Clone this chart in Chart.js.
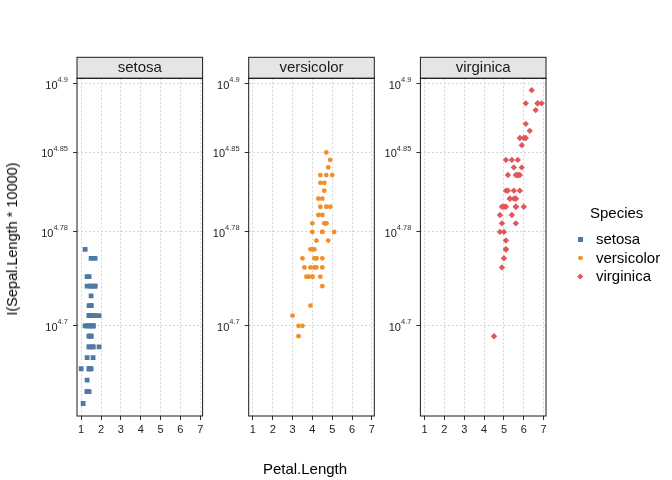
<!DOCTYPE html>
<html>
<head>
<meta charset="utf-8">
<script src="https://cdn.jsdelivr.net/npm/chart.js@4.4.1/dist/chart.umd.min.js"></script>
<style>
  body { margin: 0; background: #fff; }
  #wrap { position: relative; width: 672px; height: 480px; font-family: "Liberation Sans", Arial, sans-serif; color: #000; }
  #wrap canvas { position: absolute; left: 0; top: 0; }
  .title { position: absolute; font-size: 15px; white-space: nowrap; }
  #xtitle { left: 305px; top: 468px; transform: translate(-50%, -50%); }
  #ytitle { left: 12px; top: 239px; transform: translate(-50%, -50%) rotate(-90deg); font-size: 14.5px; }
  #legend { position: absolute; left: 576px; top: 204px; font-size: 15px; }
  #legend .head { margin-left: 14px; height: 26px; }
  #legend .item { position: relative; height: 18.5px; line-height: 18.5px; padding-left: 20px; }
  #legend .mark { position: absolute; left: 2px; top: 7px; width: 4.5px; height: 4.5px; }
</style>
</head>
<body>
<div id="wrap">
  <canvas id="p0" width="672" height="480"></canvas>
  <canvas id="p1" width="672" height="480"></canvas>
  <canvas id="p2" width="672" height="480"></canvas>
  <div class="title" id="xtitle">Petal.Length</div>
  <div class="title" id="ytitle">I(Sepal.Length * 10000)</div>
  <div id="legend">
    <div class="head">Species</div>
    <div class="item"><span class="mark" style="background:#4E79A7"></span>setosa</div>
    <div class="item"><span class="mark" style="background:#F28E2B;border-radius:50%"></span>versicolor</div>
    <div class="item"><span class="mark" style="background:#E15759;transform:rotate(45deg) scale(0.85)"></span>virginica</div>
  </div>
</div>
<script>
// iris: Petal.Length and Sepal.Length per species
const species = ['setosa', 'versicolor', 'virginica'];
const colors = ['#4E79A7', '#F28E2B', '#E15759'];
const shapes = ['rect', 'circle', 'rectRot'];

const setosaPetal = [1.4,1.4,1.3,1.5,1.4,1.7,1.4,1.5,1.4,1.5,1.5,1.6,1.4,1.1,1.2,1.5,1.3,1.4,1.7,1.5,1.7,1.5,1.0,1.7,1.9,1.6,1.6,1.5,1.4,1.6,1.6,1.5,1.5,1.4,1.5,1.2,1.3,1.4,1.3,1.5,1.3,1.3,1.3,1.6,1.9,1.4,1.6,1.4,1.5,1.4];
const setosaSepal = [5.1,4.9,4.7,4.6,5.0,5.4,4.6,5.0,4.4,4.9,5.4,4.8,4.8,4.3,5.8,5.7,5.4,5.1,5.7,5.1,5.4,5.1,4.6,5.1,4.8,5.0,5.0,5.2,5.2,4.7,4.8,5.4,5.2,5.5,4.9,5.0,5.5,4.9,4.4,5.1,5.0,4.5,4.4,5.0,5.1,4.8,5.1,4.6,5.3,5.0];
const versicolorPetal = [4.7,4.5,4.9,4.0,4.6,4.5,4.7,3.3,4.6,3.9,3.5,4.2,4.0,4.7,3.6,4.4,4.5,4.1,4.5,3.9,4.8,4.0,4.9,4.7,4.3,4.4,4.8,5.0,4.5,3.5,3.8,3.7,3.9,5.1,4.5,4.5,4.7,4.4,4.1,4.0,4.4,4.6,4.0,3.3,4.2,4.2,4.2,4.3,3.0,4.1];
const versicolorSepal = [7.0,6.4,6.9,5.5,6.5,5.7,6.3,4.9,6.6,5.2,5.0,5.9,6.0,6.1,5.6,6.7,5.6,5.8,6.2,5.6,5.9,6.1,6.3,6.1,6.4,6.6,6.8,6.7,6.0,5.7,5.5,5.5,5.8,6.0,5.4,6.0,6.7,6.3,5.6,5.5,5.5,6.1,5.8,5.0,5.6,5.7,5.7,6.2,5.1,5.7];
const virginicaPetal = [6.0,5.1,5.9,5.6,5.8,6.6,4.5,6.3,5.8,6.1,5.1,5.3,5.5,5.0,5.1,5.3,5.5,6.7,6.9,5.0,5.7,4.9,6.7,4.9,5.7,6.0,4.8,4.9,5.6,5.8,6.1,6.4,5.6,5.1,5.6,6.1,5.6,5.5,4.8,5.4,5.6,5.1,5.1,5.9,5.7,5.2,5.0,5.2,5.4,5.1];
const virginicaSepal = [6.3,5.8,7.1,6.3,6.5,7.6,4.9,7.3,6.7,7.2,6.5,6.4,6.8,5.7,5.8,6.4,6.5,7.7,7.7,6.0,6.9,5.6,7.7,6.3,6.7,7.2,6.2,6.1,6.4,7.2,7.4,7.9,6.4,6.3,6.1,7.7,6.3,6.4,6.0,6.9,6.7,6.9,5.8,6.8,6.7,6.7,6.3,6.5,6.2,5.9];

const petalBySpecies = [setosaPetal, versicolorPetal, virginicaPetal];
const sepalBySpecies = [setosaSepal, versicolorSepal, virginicaSepal];

// axis ticks
const xTicks = [1, 2, 3, 4, 5, 6, 7];
const yTickValues = [50000, 60000, 70000, 80000];
const yTickExps = ['4.7', '4.78', '4.85', '4.9'];

// panel geometry
const panelLefts = [77, 248.7, 420.4];
const panelWidth = 125.6;
const panelTop = 78.3;
const panelBottom = 416;
const stripTop = 57.3;
const yAxisW = 30, xAxisH = 20;
const FONT = '"Liberation Sans", Arial, sans-serif';

const facetDeco = {
  id: 'facetDeco',
  afterDraw(chart, args, opts) {
    const ctx = chart.ctx, a = chart.chartArea, ys = chart.scales.y;
    ctx.save();
    ctx.lineWidth = 1;
    ctx.strokeStyle = '#1a1a1a';
    ctx.fillStyle = '#e5e5e5';
    ctx.fillRect(a.left, stripTop, a.right - a.left, a.top - stripTop);
    ctx.strokeRect(a.left, stripTop, a.right - a.left, a.top - stripTop);
    ctx.strokeRect(a.left, a.top, a.right - a.left, a.bottom - a.top);
    ctx.fillStyle = '#1a1a1a';
    ctx.font = '15px ' + FONT;
    ctx.textAlign = 'center';
    ctx.textBaseline = 'middle';
    ctx.fillText(opts.label, (a.left + a.right) / 2, (stripTop + a.top) / 2 + 0.5);
    // y tick labels as 10^exp
    yTickValues.forEach((v, i) => {
      const py = ys.getPixelForValue(v);
      ctx.font = '7.5px ' + FONT;
      const ew = ctx.measureText(yTickExps[i]).width;
      const right = a.left - 9;
      ctx.textAlign = 'left';
      ctx.textBaseline = 'alphabetic';
      ctx.fillStyle = '#333';
      ctx.fillText(yTickExps[i], right - ew, py - 1.5);
      ctx.font = '11px ' + FONT;
      ctx.textAlign = 'right';
      ctx.fillStyle = '#222';
      ctx.fillText('10', right - ew, py + 5);
    });
    ctx.restore();
  }
};

species.forEach((sp, i) => {
  const points = petalBySpecies[i].map((p, k) => ({ x: p, y: sepalBySpecies[i][k] * 10000 }));
  const left = panelLefts[i];
  new Chart(document.getElementById('p' + i), {
    type: 'scatter',
    data: {
      datasets: [{
        label: sp,
        data: points,
        pointStyle: shapes[i],
        pointRadius: i === 0 ? 3.4 : (i === 1 ? 2.4 : 3.2),
        pointBackgroundColor: colors[i],
        pointBorderWidth: 0,
        borderWidth: 0
      }]
    },
    options: {
      responsive: false,
      animation: false,
      events: [],
      layout: {
        padding: {
          left: left - yAxisW,
          right: 672 - (left + panelWidth),
          top: panelTop,
          bottom: 480 - panelBottom - xAxisH
        }
      },
      plugins: {
        legend: { display: false },
        tooltip: { enabled: false },
        facetDeco: { label: sp }
      },
      scales: {
        x: {
          type: 'linear',
          min: 0.79,
          max: 7.12,
          afterBuildTicks: s => { s.ticks = xTicks.map(v => ({ value: v })); },
          afterFit: s => { s.height = xAxisH; },
          grid: { color: '#d6d6d6', tickColor: '#333', tickLength: 4, tickBorderDash: [] },
          border: { display: false, dash: [2, 2] },
          ticks: { color: '#222', font: { size: 11, family: FONT }, padding: 3, maxRotation: 0, autoSkip: false }
        },
        y: {
          type: 'logarithmic',
          min: 41970,
          max: 80840,
          afterBuildTicks: s => { s.ticks = yTickValues.map(v => ({ value: v })); },
          afterFit: s => { s.width = yAxisW; },
          grid: { color: '#d6d6d6', tickColor: '#333', tickLength: 4, tickBorderDash: [] },
          border: { display: false, dash: [2, 2] },
          ticks: { callback: () => '', autoSkip: false }
        }
      }
    },
    plugins: [facetDeco]
  });
});
</script>
</body>
</html>
